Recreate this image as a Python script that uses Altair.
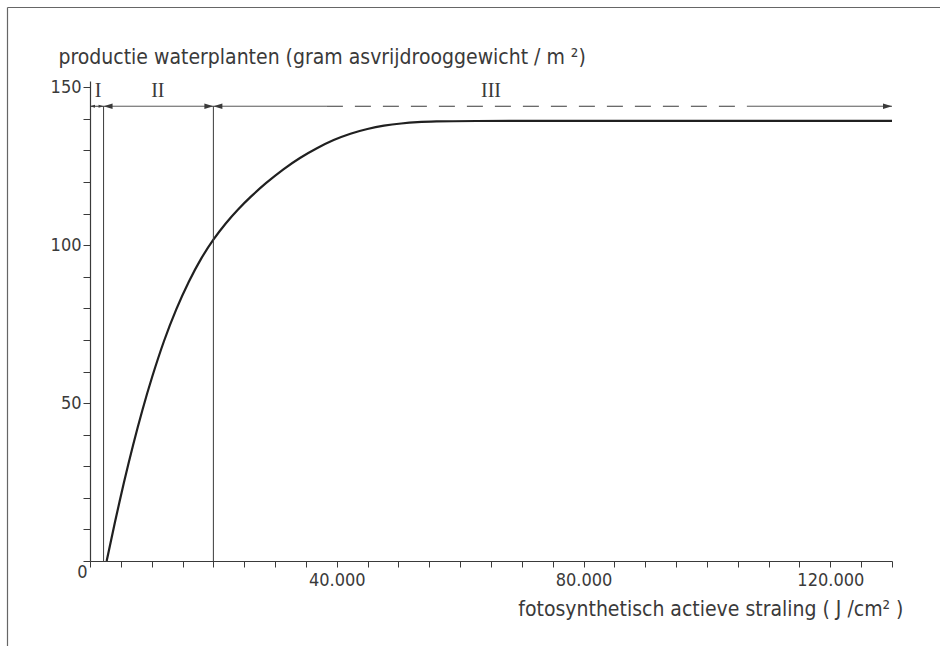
import altair as alt
import pandas as pd

# ---- data ----
radiation = [2700, 4000, 5500, 7000, 8500, 10000, 12000, 14000, 16000, 18000,
             20000, 22000, 24000, 26000, 28500, 31400, 34000, 36800, 39500, 42200,
             45000, 47600, 50500, 53000, 56000, 60000, 80000, 100000, 130000]
production = [0, 12, 25, 37, 48, 58, 70, 80, 88.6, 95.9,
              101.9, 107.0, 111.4, 115.3, 119.7, 124.2, 127.7, 130.8, 133.4, 135.4,
              136.9, 137.9, 138.6, 139.0, 139.2, 139.35, 139.4, 139.4, 139.4]

region_names = ["I", "II", "III"]
region_label_x = [1300, 11000, 65000]
label_level = 146.8
boundary_x = [2200, 20000]
arrow_level = 144

seg_x1 = [0, 2200, 20000, 38400, 106600]
seg_x2 = [2200, 20000, 38400, 106600, 130000]
seg_style = ["solid", "solid", "solid", "dashed", "solid"]

head_x = [0, 2200, 2200, 20000, 20000, 130000]
head_dir = ["left", "right", "left", "right", "left", "right"]
head_region = ["I", "I", "II", "II", "III", "III"]

x_ticks = list(range(0, 130001, 5000))
y_ticks = list(range(0, 151, 10))
origin_label = ["0"]

X_DOMAIN = [0, 130000]
Y_DOMAIN = [0, 152]

FONT = "DejaVu Sans Condensed, DejaVu Sans, sans-serif"
SERIF = "Liberation Serif, DejaVu Serif, serif"
INK = "#3a3a3a"

xs = alt.Scale(domain=X_DOMAIN, nice=False, zero=False)
ys = alt.Scale(domain=Y_DOMAIN, nice=False, zero=False)

xaxis = alt.Axis(
    values=x_ticks, tickSize=6, labelPadding=4, grid=False,
    labelExpr="datum.value > 0 && datum.value % 40000 == 0 ? replace(format(datum.value, ','), ',', '.') : ''",
    labelOverlap=False, labelFlush=False,
    title="fotosynthetisch actieve straling ( J /cm² )",
    titleX=813, titleY=54, titleAlign="right", titleBaseline="alphabetic",
    titleAnchor="end")
yaxis = alt.Axis(
    values=y_ticks, tickSize=7, labelPadding=2, grid=False,
    labelExpr="datum.value > 0 && datum.value % 50 == 0 ? datum.label : ''",
    labelOverlap=False, labelFlush=False,
    title="productie waterplanten (gram asvrijdrooggewicht / m\u00a0²)",
    titleAngle=0, titleX=-32, titleY=-18, titleAlign="left",
    titleBaseline="alphabetic")

curve_df = pd.DataFrame({"x": radiation, "y": production})
seg_df = pd.DataFrame({"x": seg_x1, "x2": seg_x2, "style": seg_style,
                       "y": [arrow_level] * len(seg_x1)})
bound_df = pd.DataFrame({"x": boundary_x, "y": [0] * len(boundary_x),
                         "hi": [arrow_level] * len(boundary_x)})
lab_df = pd.DataFrame({"x": region_label_x, "t": region_names,
                       "y": [label_level] * len(region_names)})
head_df = pd.DataFrame({"x": head_x, "dir": head_dir, "region": head_region,
                        "y": [arrow_level] * len(head_x)})
origin_df = pd.DataFrame({"x": [-400], "y": [-5.4], "t": origin_label})
one = pd.DataFrame({"a": [0]})


def X():
    return alt.X("x:Q", scale=xs, axis=xaxis)


def Y():
    return alt.Y("y:Q", scale=ys, axis=yaxis)


curve = alt.Chart(curve_df).mark_line(
    color="#202020", strokeWidth=2.2, interpolate="basis"
).encode(x=X(), y=Y())

segs = alt.Chart(seg_df).mark_rule(color=INK, strokeWidth=1).encode(
    x=X(), x2="x2:Q", y=Y(),
    strokeDash=alt.StrokeDash("style:N", scale=alt.Scale(
        domain=["solid", "dashed"], range=[[1, 0], [16, 12]]), legend=None),
)

bounds = alt.Chart(bound_df).mark_rule(color=INK, strokeWidth=1).encode(
    x=X(), y=Y(), y2="hi:Q",
)

heads_r = alt.Chart(head_df).transform_filter("datum.dir == 'right'").mark_point(
    shape="M0,0L-1,-0.3L-1,0.3Z", filled=True, color=INK, opacity=1
).encode(
    x=X(), y=Y(),
    size=alt.condition("datum.region == 'I'", alt.value(100), alt.value(324)),
)
heads_l = alt.Chart(head_df).transform_filter("datum.dir == 'left'").mark_point(
    shape="M0,0L1,-0.3L1,0.3Z", filled=True, color=INK, opacity=1
).encode(
    x=X(), y=Y(),
    size=alt.condition("datum.region == 'I'", alt.value(100), alt.value(324)),
)

labels = alt.Chart(lab_df).mark_text(
    font=SERIF, fontSize=20, color=INK, baseline="alphabetic", align="center"
).encode(x=X(), y=Y(), text="t:N")

origin = alt.Chart(origin_df).mark_text(
    font=FONT, fontSize=18, color=INK, baseline="alphabetic", align="right"
).encode(x=X(), y=Y(), text="t:N")

frame_top = alt.Chart(one).mark_rule(color="#666", strokeWidth=1.2).encode(
    x=alt.value(-82.5), x2=alt.value(850), y=alt.value(-73.5))
frame_left = alt.Chart(one).mark_rule(color="#666", strokeWidth=1.2).encode(
    x=alt.value(-82.5), y=alt.value(-73.5), y2=alt.value(565))

chart = alt.layer(
    curve, bounds, segs, heads_r, heads_l, labels, origin, frame_top, frame_left
).properties(
    width=802, height=480,
    autosize=alt.AutoSizeParams(type="none"),
    padding={"left": 90, "top": 81, "right": 56, "bottom": 85},
    background="white",
).configure_view(stroke=None).configure_axis(
    domainColor=INK, tickColor=INK, domainWidth=1.2, tickWidth=1,
    labelFont=FONT, labelFontSize=18, labelColor=INK,
    titleFont=FONT, titleFontSize=21, titleFontWeight="normal", titleColor=INK,
)

chart.save("out.html", embed_options={"renderer": "svg", "actions": False})
